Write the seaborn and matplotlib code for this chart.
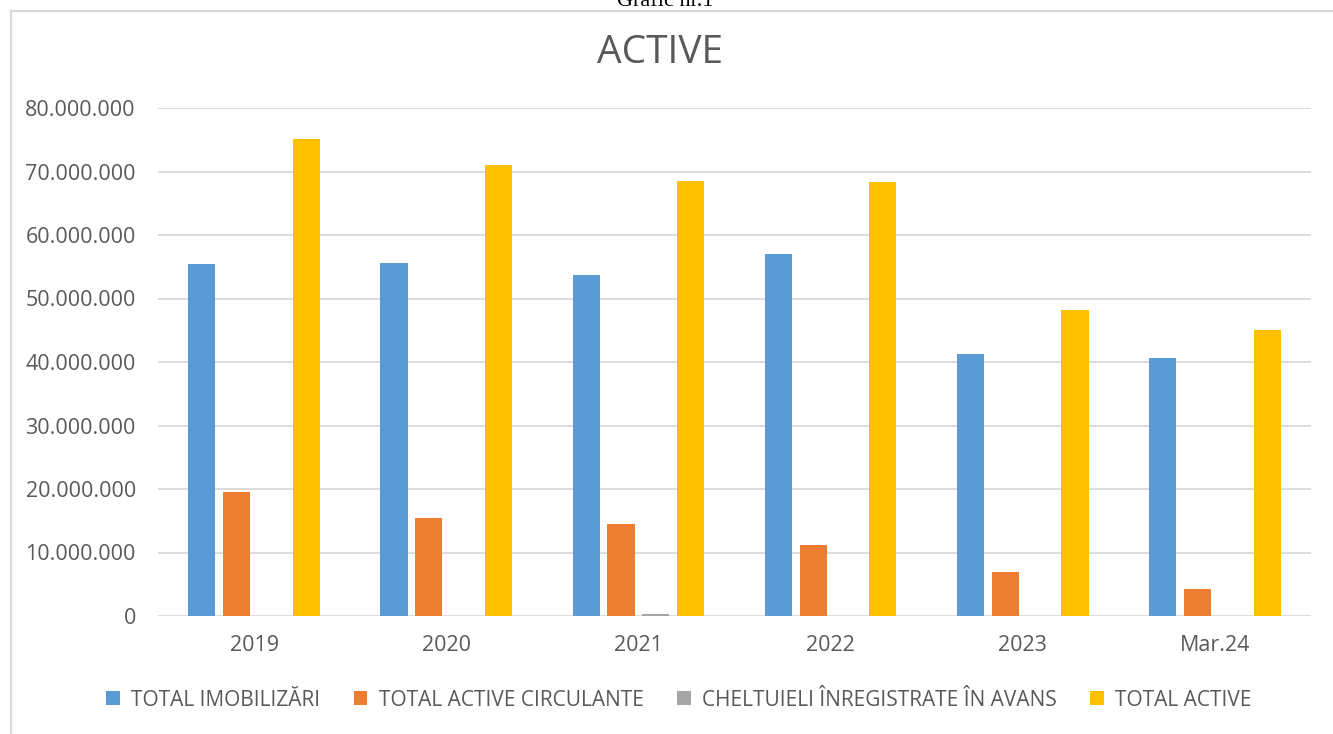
import pandas as pd
import seaborn as sns
import matplotlib.pyplot as plt
import matplotlib.ticker as mticker
from matplotlib.patches import Rectangle, Patch

# date (lei)
ani = ['2019', '2020', '2021', '2022', '2023', 'Mar.24']
total_imobilizari = [55400000, 55600000, 53700000, 57000000, 41300000, 40600000]
total_active_circulante = [19600000, 15400000, 14500000, 11200000, 6900000, 4200000]
cheltuieli_avans = [0, 0, 250000, 0, 0, 0]
total_active = [75100000, 71100000, 68500000, 68400000, 48200000, 45000000]

serii = ['TOTAL IMOBILIZĂRI', 'TOTAL ACTIVE CIRCULANTE',
         'CHELTUIELI ÎNREGISTRATE ÎN AVANS', 'TOTAL ACTIVE']
culori = ['#5B9BD5', '#ED7D31', '#A5A5A5', '#FFC000']

df = pd.DataFrame({
    'an': ani * 4,
    'indicator': [s for s in serii for _ in ani],
    'valoare': total_imobilizari + total_active_circulante + cheltuieli_avans + total_active,
})

sns.set_style('white')
plt.rcParams['font.family'] = ['Open Sans', 'DejaVu Sans']

fig = plt.figure(figsize=(13.33, 7.34), dpi=100)
W, H = 1333, 734
ax = fig.add_axes([158 / W, 1 - 616 / H, (1311 - 158) / W, (616 - 108) / H])

sns.barplot(data=df, x='an', y='valoare', hue='indicator', palette=culori,
            width=0.725, gap=0.224, saturation=1, linewidth=0, ax=ax)

ax.set_ylim(0, 80000000)
ax.set_xlim(-0.5, len(ani) - 0.5)
ax.yaxis.set_major_locator(mticker.MultipleLocator(10000000))
ax.yaxis.set_major_formatter(mticker.FuncFormatter(lambda v, p: f"{int(v):,}".replace(',', '.')))
ax.grid(True, axis='y', color='#d9d9d9', linewidth=1.3)
ax.set_axisbelow(True)
for s in ax.spines.values():
    s.set_visible(False)
ax.tick_params(axis='both', length=0, labelsize=15.5, colors='#595959')
ax.tick_params(axis='y', pad=16)
ax.tick_params(axis='x', pad=14)
ax.set_xlabel('')
ax.set_ylabel('')
ax.get_legend().remove()

fig.text(660 / W, 1 - 53 / H, 'ACTIVE', ha='center', va='center', fontsize=28, color='#595959')

handles = [Patch(facecolor=c, edgecolor='none') for c in culori]
fig.legend(handles, serii, loc='center', bbox_to_anchor=(679 / W, 1 - 700 / H), ncol=4,
           frameon=False, fontsize=15, labelcolor='#595959', handlelength=0.65, handleheight=0.65,
           handletextpad=0.55, columnspacing=1.6)

# chenarul graficului si titlul documentului
fig.patches.append(Rectangle((11 / W, -0.1), 1.2, 1 - 11 / H + 0.1, transform=fig.transFigure,
                             fill=False, edgecolor='#d9d9d9', linewidth=1.5, clip_on=False))
fig.text(665 / W, 1 - 6 / H, 'Grafic nr.1', ha='center', va='baseline', fontsize=16,
         family=['Liberation Serif', 'DejaVu Serif'], color='black')

fig.savefig('out.png', dpi=100)
